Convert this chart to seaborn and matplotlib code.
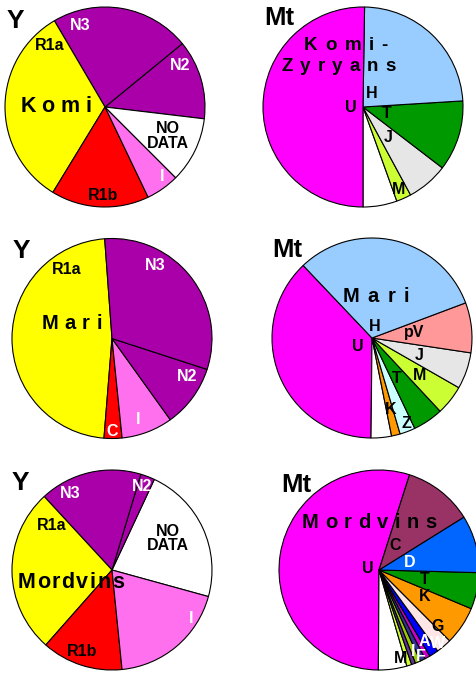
import numpy as np
import matplotlib.pyplot as plt
import seaborn as sns

# shares (percent), listed counter-clockwise from the start angle
komi_y_groups = ['N2', 'N3', 'R1a', 'R1b', 'I', 'NO DATA']
komi_y_share = [12.8, 22.5, 32.8, 15.8, 5.4, 10.6]

komi_mt_groups = ['other', 'M', 'J', 'T', 'H', 'U']
komi_mt_share = [5.5, 2.4, 6.7, 11.4, 23.8, 50.3]

mari_y_groups = ['R1a', 'C', 'I', 'N2', 'N3']
mari_y_share = [47.6, 2.9, 8.3, 10.1, 31.2]

mari_mt_groups = ['U', 'other', 'K', 'Z', 'T', 'M', 'J', 'pV', 'H']
mari_mt_share = [37.8, 3.3, 1.4, 2.5, 4.9, 4.8, 5.9, 8.1, 31.4]

mord_y_groups = ['NO DATA', 'N2', 'N3', 'R1a', 'R1b', 'I']
mord_y_share = [22.3, 2.3, 16.5, 26.6, 13.1, 19.1]

mord_mt_groups = ['U', 'other', 'M', 'X', 'F', 'I', 'W', 'A', 'G', 'K', 'T', 'D', 'C']
mord_mt_share = [54.9, 4.6, 0.8, 0.65, 0.85, 0.85, 0.85, 1.5, 2.5, 6.2, 5.9, 9.3, 11.2]

# colours
y_colors = {'N2': '#AA00AA', 'N3': '#AA00AA', 'R1a': '#FFFF00', 'R1b': '#FF0000',
            'I': '#FF70EE', 'C': '#FF0000', 'NO DATA': '#FFFFFF'}
mt_colors = {'U': '#FF00FF', 'H': '#99CCFF', 'T': '#009900', 'J': '#E6E6E6',
             'M': '#CCFF33', 'other': '#FFFFFF', 'pV': '#FF9999', 'Z': '#CCFFFF',
             'K': '#FF9900', 'C': '#993366', 'D': '#0066FF', 'G': '#FFE6E6',
             'A': '#0000FF', 'W': '#CC00CC', 'I': '#333399', 'F': '#99CC00',
             'X': '#663399'}

H_PX = 677
LBL = 11.5

sns.set_style('white')
plt.rcParams['font.family'] = ['Liberation Sans', 'DejaVu Sans']
plt.rcParams['font.weight'] = 'bold'
plt.rcParams['text.color'] = 'black'

fig = plt.figure(figsize=(4.76, 6.77), dpi=100)
ax = fig.add_axes([0, 0, 1, 1])
ax.set_xlim(0, 476)
ax.set_ylim(0, H_PX)
renderer = fig.canvas.get_renderer()


def draw_pie(groups, share, cmap, center, r, start):
    cx, cy = center
    ax.pie(share, colors=[cmap[g] for g in groups], startangle=start,
           counterclock=True, center=(cx, H_PX - cy), radius=r,
           wedgeprops=dict(edgecolor='black', linewidth=0.8))


def txt(x, y, s, size=LBL, color='black', **kw):
    return ax.text(x, H_PX - y, s, fontsize=size, color=color, fontweight='bold',
                   ha='center', va='center', **kw)


def spaced(x, y, s, gap, size):
    # letter-spaced names: 1 data unit == 1 pixel here
    items = [ax.text(0, H_PX - y, ch, fontsize=size, fontweight='bold',
                     color='black', ha='left', va='center') for ch in s]
    widths = [t.get_window_extent(renderer).width for t in items]
    left = x - (sum(widths) + gap * (len(s) - 1)) / 2
    for t, w in zip(items, widths):
        t.set_x(left)
        left += w + gap


draw_pie(komi_y_groups, komi_y_share, y_colors, (105, 107), 100, -6.8)
draw_pie(komi_mt_groups, komi_mt_share, mt_colors, (363, 107), 100, -90)
draw_pie(mari_y_groups, mari_y_share, y_colors, (112, 338.5), 100, 94.2)
draw_pie(mari_mt_groups, mari_mt_share, mt_colors, (372, 338), 100, 133.5)
draw_pie(mord_y_groups, mord_y_share, y_colors, (112, 570), 100, -15.4)
draw_pie(mord_mt_groups, mord_mt_share, mt_colors, (379, 570), 100, 72.2)

ax.set_xlim(0, 476)
ax.set_ylim(0, H_PX)
ax.set_aspect('equal')
ax.axis('off')

# panel tags
for x, y in [(15, 21), (21.7, 251), (20, 483)]:
    txt(x, y, 'Y', size=19)
for x, y in [(279.3, 18.3), (287.7, 250), (296, 485)]:
    txt(x, y, 'Mt', size=18.5)

# Komi Y
txt(80, 26, 'N3', color='white')
txt(50, 45, 'R1a')
txt(180, 65, 'N2', color='white')
spaced(55.7, 106, 'Komi', 5.7, 15.5)
txt(168.3, 136, 'NO\nDATA', linespacing=0.95)
txt(162.3, 176.7, 'I', color='white')
txt(103.3, 195, 'R1b')

# Komi Mt
spaced(346, 45, 'Komi-', 7.6, 13.5)
spaced(338.5, 66.7, 'Zyryans', 7.1, 13.5)
txt(372, 93, 'H')
txt(351, 107, 'U')
txt(387, 113, 'T')
txt(388, 138, 'J')
txt(399, 190, 'M')

# Mari Y
txt(155, 265, 'N3', color='white')
txt(66.7, 270, 'R1a')
spaced(71.7, 323.3, 'Mari', 6.2, 14.5)
txt(186.7, 376.7, 'N2', color='white')
txt(138.3, 420, 'I', color='white')
txt(112.3, 431.7, 'C', color='white')

# Mari Mt
spaced(375.7, 296.7, 'Mari', 8.5, 14.5)
txt(374.3, 326.7, 'H')
txt(357.7, 346.7, 'U')
txt(414.3, 332.3, 'pV')
txt(418.7, 355, 'J')
txt(419.3, 375, 'M')
txt(397, 378.3, 'T')
txt(390.3, 410, 'K')
txt(406, 423.3, 'Z')

# Mordvins Y
txt(70, 493.3, 'N3', color='white')
txt(141.7, 486.7, 'N2', color='white')
txt(168.3, 538.3, 'NO\nDATA', linespacing=0.95)
txt(51.7, 525, 'R1a')
spaced(70.8, 582.7, 'Mordvins', 1.5, 15.5)
txt(190.7, 618.3, 'I', color='white')
txt(81.7, 651.7, 'R1b')

# Mordvins Mt
spaced(369.3, 522.7, 'Mordvins', 6.5, 14.5)
txt(395.3, 546, 'C')
txt(410, 562.3, 'D', color='white')
txt(368.3, 568.3, 'U')
txt(424.3, 580, 'T')
txt(424.3, 596.7, 'K')
txt(437.7, 626.7, 'G')
txt(424.3, 641.7, 'A', color='white')
txt(437.7, 643.3, 'W', color='white')
txt(412.7, 651.7, 'I', color='white')
txt(421, 656.7, 'F', color='white')
txt(401, 658.3, 'M')

fig.savefig('out.png', dpi=100)
